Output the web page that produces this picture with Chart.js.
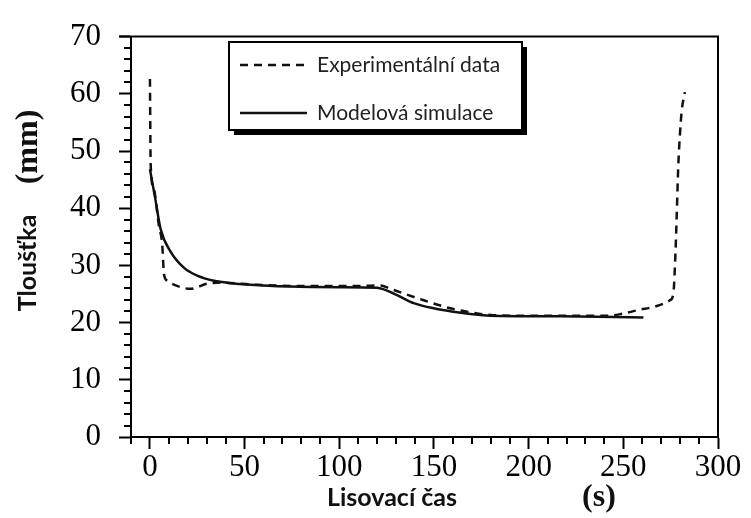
<!DOCTYPE html>
<html>
<head>
<meta charset="utf-8">
<script src="https://cdn.jsdelivr.net/npm/chart.js@4.4.1/dist/chart.umd.min.js"></script>
<style>
  html, body { margin: 0; padding: 0; background: #fff; }
  #wrap { width: 751px; height: 518px; }
</style>
</head>
<body>
<div id="wrap"><canvas id="c" width="751" height="518"></canvas></div>
<script>
// Pressing time (s) and board thickness (mm)
const expTime  = [0, 0.4, 2.1, 4.7, 6.5, 7.4, 9.2, 13.6, 21.5, 30.3, 37.3, 56.6, 80, 100, 111.1, 121.7, 127, 144.6, 158.6, 167.4, 181.4, 200, 220, 242.1, 250, 257.9, 267.6, 274.6, 276.4, 277.3, 278.2, 279, 279.9, 280.8, 282.5];
const expThick = [62.6, 47.5, 43.3, 37, 33.6, 28.5, 27.3, 26.5, 25.9, 26.8, 27, 26.6, 26.4, 26.4, 26.4, 26.5, 25.9, 23.9, 22.5, 21.9, 21.3, 21.2, 21.2, 21.2, 21.6, 22.2, 22.9, 23.9, 25, 30.2, 38.7, 47.2, 52.9, 56.9, 60.3];

const simTime  = [0, 2.9, 5.6, 10.9, 17.9, 25, 33.8, 42.6, 60.1, 74.2, 100, 119.9, 130.5, 139.3, 149.8, 160.3, 169.2, 179.7, 216.6, 260.6];
const simThick = [46.8, 41.5, 36.4, 32.4, 29.6, 28.2, 27.3, 26.9, 26.5, 26.3, 26.2, 26.1, 24.8, 23.4, 22.5, 21.9, 21.5, 21.2, 21.1, 20.9];

const xTicks = [0, 50, 100, 150, 200, 250, 300];
const yTicks = [0, 10, 20, 30, 40, 50, 60, 70];

const seriesLabels = ['Experimentální data', 'Modelová simulace'];

const toPoints = (xs, ys) => xs.map((x, i) => ({ x: x, y: ys[i] }));

const SERIF = '"Liberation Serif", "Times New Roman", serif';
const SANS = 'Lato, "Open Sans", sans-serif';

// minor tick marks, closed frame, axis titles and framed legend
const decorations = {
  id: 'decorations',
  afterDraw(chart) {
    const ctx = chart.ctx;
    const a = chart.chartArea;
    const xs = chart.scales.x, ys = chart.scales.y;
    ctx.save();
    ctx.strokeStyle = '#000';
    ctx.lineWidth = 2;
    ctx.beginPath();
    for (let v = 0; v <= 70; v += 2) {
      if (v % 10 === 0) continue;
      const py = Math.round(ys.getPixelForValue(v));
      ctx.moveTo(a.left, py); ctx.lineTo(a.left - 7, py);
    }
    for (let v = -10; v <= 300; v += 10) {
      if (v % 50 === 0) continue;
      const px = Math.round(xs.getPixelForValue(v));
      ctx.moveTo(px, a.bottom); ctx.lineTo(px, a.bottom + 7);
    }
    ctx.stroke();

    // top and right edges of the frame
    ctx.beginPath();
    ctx.moveTo(a.left - 12, a.top);
    ctx.lineTo(a.right, a.top);
    ctx.lineTo(a.right, a.bottom);
    ctx.stroke();

    // axis titles
    ctx.fillStyle = '#111';
    ctx.textBaseline = 'middle';
    ctx.textAlign = 'center';
    ctx.font = 'bold 25px ' + SANS;
    ctx.fillText('Lisovací čas', 392, 498);
    ctx.font = 'bold 32px ' + SERIF;
    ctx.fillText('(s)', 599, 498);

    ctx.save();
    ctx.translate(28, 263);
    ctx.rotate(-Math.PI / 2);
    ctx.font = 'bold 25px ' + SANS;
    ctx.fillText('Tloušťka', 0, 0);
    ctx.restore();
    ctx.save();
    ctx.translate(29, 147);
    ctx.rotate(-Math.PI / 2);
    ctx.font = 'bold 32px ' + SERIF;
    ctx.fillText('(mm)', 0, 0);
    ctx.restore();

    // legend box with drop shadow
    const bx = 229, by = 42, bw = 293, bh = 88;
    ctx.fillStyle = '#000';
    ctx.fillRect(bx + 5, by + 5, bw, bh);
    ctx.fillStyle = '#fff';
    ctx.fillRect(bx, by, bw, bh);
    ctx.lineWidth = 2;
    ctx.strokeStyle = '#000';
    ctx.strokeRect(bx, by, bw, bh);

    const rows = [65, 113];
    chart.data.datasets.forEach((ds, i) => {
      const y = rows[i];
      ctx.beginPath();
      ctx.lineWidth = ds.borderWidth;
      ctx.strokeStyle = ds.borderColor;
      ctx.setLineDash(ds.borderDash || []);
      ctx.moveTo(240, y); ctx.lineTo(307, y);
      ctx.stroke();
      ctx.setLineDash([]);
      ctx.fillStyle = '#222';
      ctx.textAlign = 'left';
      ctx.textBaseline = 'middle';
      ctx.font = '21px ' + SANS;
      ctx.fillText(ds.label, 317, y);
    });
    ctx.restore();
  }
};

new Chart(document.getElementById('c'), {
  type: 'scatter',
  data: {
    datasets: [
      {
        label: seriesLabels[0],
        data: toPoints(expTime, expThick),
        showLine: true,
        borderColor: '#111',
        borderWidth: 2.5,
        borderDash: [8, 6],
        pointRadius: 0,
        cubicInterpolationMode: 'monotone',
        fill: false
      },
      {
        label: seriesLabels[1],
        data: toPoints(simTime, simThick),
        showLine: true,
        borderColor: '#111',
        borderWidth: 2.5,
        pointRadius: 0,
        cubicInterpolationMode: 'monotone',
        fill: false
      }
    ]
  },
  options: {
    responsive: false,
    animation: false,
    devicePixelRatio: 1,
    layout: { padding: { top: 27, right: 33, left: 0, bottom: 0 } },
    plugins: { legend: { display: false }, tooltip: { enabled: false } },
    scales: {
      x: {
        type: 'linear',
        min: -10,
        max: 300,
        afterFit(scale) { scale.height = 81; },
        afterBuildTicks(scale) { scale.ticks = xTicks.map(v => ({ value: v })); },
        grid: { display: true, drawOnChartArea: false, drawTicks: true, tickLength: 12, tickWidth: 2, color: '#000' },
        border: { display: true, color: '#000', width: 2 },
        ticks: { color: '#000', font: { family: SERIF, size: 31 }, padding: 0, maxRotation: 0, autoSkip: false }
      },
      y: {
        type: 'linear',
        min: 0,
        max: 70,
        afterFit(scale) { scale.width = 131; },
        afterBuildTicks(scale) { scale.ticks = yTicks.map(v => ({ value: v })); },
        grid: { display: true, drawOnChartArea: false, drawTicks: true, tickLength: 12, tickWidth: 2, color: '#000' },
        border: { display: true, color: '#000', width: 2 },
        ticks: { color: '#000', font: { family: SERIF, size: 31 }, padding: 18, autoSkip: false }
      }
    }
  },
  plugins: [decorations]
});
</script>
</body>
</html>
